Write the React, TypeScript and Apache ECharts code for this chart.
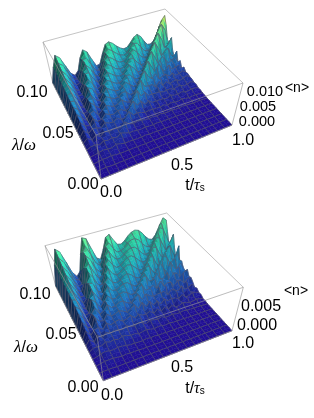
import React, { useEffect, useRef } from "react";
import * as echarts from "echarts";

// <n> in units of 1e-4; rows = lambda index 0..32 (0 .. 0.10), columns = t index 0..32 (0 .. 1).
// Trailing zeros of a row are left out.
const surfaceA: number[][] = [
[],
[],
[0,1,2],
[0,1,1,3,1,1],
[0,2,4,3,5,2,1,1,1,1,1],
[0,1,1,3,3,7,2,2,1,1,1,1,1,1],
[0,1,4,6,4,3,9,5,2,2,2,1,1,2,0,1],
[1,3,8,4,6,7,4,12,8,6,3,3,3,2,1,2,1,1,1,0,1],
[1,6,7,2,10,6,10,4,14,9,5,5,3,2,4,2,2,3,2,1,2,1,1,1],
[1,8,3,7,8,9,7,10,6,17,9,4,3,3,5,4,3,4,2,2,3,1,2,2,1,1,1],
[1,12,2,12,3,14,8,11,10,7,20,9,6,8,7,4,3,5,2,5,2,2,4,1,2,3,2,1,1,1,1],
[1,15,2,15,5,13,13,9,15,9,9,23,8,9,11,6,3,7,2,7,2,6,2,3,5,2,1,2,3,1,1,1,1],
[1,17,3,13,11,6,18,12,11,18,9,12,26,10,13,9,5,7,6,5,5,7,2,7,3,2,6,3,1,2,3,2,1],
[1,20,5,8,18,4,18,18,12,15,19,9,13,30,12,19,7,10,11,4,9,3,7,6,4,8,3,3,7,4,2,2,3],
[1,23,8,4,22,8,11,23,16,13,20,18,10,17,33,15,24,9,16,7,8,7,7,3,10,5,4,8,4,3,6,5,2],
[2,26,12,3,22,15,5,23,23,15,16,24,18,11,20,37,17,25,11,17,7,13,5,11,6,8,11,4,6,9,4,3,6],
[2,30,16,2,19,23,6,16,28,21,16,20,28,17,12,23,41,20,27,13,14,12,13,8,9,11,4,10,10,4,6,10,5],
[2,33,19,4,14,28,12,8,29,28,19,17,25,28,16,14,27,45,23,25,18,12,20,10,13,6,13,8,5,12,9,3,8],
[2,34,24,5,8,32,19,7,22,34,26,20,20,31,29,16,16,30,49,26,24,24,12,26,9,18,7,11,13,6,11,15,8],
[2,35,28,7,6,30,29,9,12,35,33,25,20,26,34,28,16,18,34,53,30,25,31,14,23,15,16,13,9,15,10,5,11],
[2,36,33,11,4,27,35,16,8,28,40,32,24,22,31,39,28,18,20,39,57,35,24,36,16,20,23,14,19,8,12,16,9],
[3,37,37,15,3,22,40,24,9,20,40,39,30,24,26,37,39,27,19,22,41,61,39,24,44,19,16,30,12,21,13,12,18],
[3,38,42,20,5,15,42,35,13,10,35,46,38,29,25,31,42,40,26,20,25,46,66,43,24,47,25,15,32,14,18,21,8],
[3,40,46,24,6,10,39,43,21,10,26,46,45,35,29,27,37,46,40,26,21,28,51,70,48,26,46,29,18,29,23,18,25],
[3,42,50,29,8,8,36,48,30,10,16,42,52,43,34,29,31,44,51,40,25,22,33,55,75,52,29,49,36,21,26,33,14],
[3,43,54,33,10,6,29,54,41,18,12,33,53,52,41,33,31,37,50,52,39,25,24,35,62,79,57,32,46,45,23,23,43],
[4,44,57,38,13,5,22,51,51,26,12,22,50,59,50,38,34,34,43,55,53,37,26,26,39,66,84,62,34,48,51,26,19],
[4,45,62,44,17,5,16,48,56,36,14,14,40,60,58,48,38,34,38,50,59,53,37,27,29,43,72,89,67,38,47,58,32],
[4,46,66,48,23,7,12,45,62,47,22,14,30,57,65,57,46,38,37,44,56,64,52,36,29,31,48,78,94,71,42,47,67],
[4,47,70,54,28,9,9,37,65,59,31,14,17,47,67,65,54,44,39,40,50,63,65,52,36,30,35,53,83,99,78,45,45],
[5,49,74,64,34,12,8,31,62,65,42,19,15,37,65,73,64,53,44,40,44,57,68,65,51,35,31,37,56,87,104,84,48],
[5,50,79,65,38,13,7,24,59,72,53,29,16,26,56,74,73,62,51,45,43,50,64,73,67,50,34,32,40,61,93,110,88],
[5,50,85,74,44,16,6,18,55,78,68,40,16,18,48,75,80,72,60,50,44,46,58,72,78,68,50,36,34,44,68,100,115],
];
const surfaceB: number[][] = [
[],
[],
[0,1,1,1],
[0,2,2,3,1,1],
[0,2,4,4,4,2,1,2,1,1,1],
[0,1,2,4,4,6,3,4,3,2,1,2,1,1],
[0,2,6,8,6,5,7,6,4,2,2,1,1,3,1,2,0,1],
[1,4,11,5,6,9,5,9,9,8,7,6,4,2,2,3,1,2,2,0,1],
[1,7,8,6,12,8,11,7,12,10,6,7,3,5,7,4,2,4,3,1,3,1,1,1,1],
[1,10,4,11,10,10,12,11,8,14,9,6,7,8,8,3,6,6,2,3,4,1,2,3,1,1,1,1],
[1,13,3,18,7,17,11,15,12,10,16,10,9,13,10,4,9,7,5,8,3,3,5,2,2,4,2,1,1,1,1],
[1,17,3,19,10,15,14,14,18,12,13,19,10,13,16,8,8,9,7,9,5,9,3,3,7,4,2,4,3,2,1,1,1],
[1,20,5,15,18,9,22,14,18,20,13,16,21,11,17,11,11,15,6,14,5,13,4,11,3,4,8,5,2,3,5,3,1],
[1,23,7,10,26,11,22,19,17,22,20,14,18,24,13,22,10,16,12,10,11,12,7,12,4,12,4,5,8,5,3,3,5],
[1,26,11,6,30,16,13,27,18,21,25,21,15,21,27,14,27,13,23,11,18,7,17,9,12,10,5,13,4,4,10,7,4],
[2,30,15,5,28,25,13,28,25,21,26,28,22,17,25,30,16,29,16,22,15,19,13,13,17,7,16,12,7,14,5,4,9],
[2,33,19,5,23,35,16,21,34,23,24,30,30,22,18,29,33,18,29,21,17,19,20,21,8,19,15,10,20,8,10,16,5],
[2,36,24,7,17,40,23,15,35,31,24,29,33,31,22,21,32,36,19,28,26,15,29,14,25,13,15,22,12,15,19,9,12],
[2,38,28,9,11,43,32,17,27,40,28,27,34,37,32,24,24,36,39,22,25,30,18,35,19,24,23,10,22,20,9,19,18],
[2,39,32,11,9,38,44,22,20,42,37,29,32,38,39,33,25,26,39,42,25,24,36,21,31,25,22,31,17,17,29,16,16],
[2,41,38,15,7,32,50,31,19,35,47,34,32,37,42,42,34,27,29,43,45,28,29,43,25,24,36,17,29,26,12,24,27],
[3,42,43,20,6,25,55,41,23,24,48,44,34,35,43,46,43,34,28,32,47,49,31,28,49,30,20,43,24,26,34,20,19],
[3,43,48,25,9,18,55,52,29,22,43,54,40,35,39,47,50,44,35,30,35,52,52,35,29,52,36,23,46,30,23,36,22],
[3,44,52,30,11,13,49,62,39,24,34,57,51,38,40,46,52,52,46,36,32,40,56,56,37,29,52,43,27,38,43,21,33],
[3,46,57,36,13,12,42,68,50,29,27,51,62,47,40,44,52,57,55,46,37,34,44,60,60,39,31,53,47,31,33,51,30],
[3,46,61,41,17,10,35,73,63,37,27,41,64,58,44,44,49,57,61,57,47,38,37,47,65,64,45,34,53,55,35,25,61],
[4,48,65,46,20,10,27,66,74,48,31,35,61,70,54,45,48,56,62,64,58,48,40,40,51,69,67,48,36,51,61,41,29],
[4,49,70,52,25,10,19,60,79,60,37,29,50,71,65,50,48,53,62,67,67,60,48,42,43,56,74,71,51,38,53,68,47],
[4,52,74,57,31,12,16,53,85,72,46,34,37,69,78,61,52,53,59,67,71,70,61,49,43,46,61,79,75,56,40,52,75],
[4,52,79,64,37,16,16,45,86,86,57,37,35,59,79,73,58,54,58,66,73,76,71,61,51,46,50,66,85,79,60,43,52],
[5,54,84,70,43,18,14,34,80,93,70,45,36,50,79,86,70,57,58,63,73,78,79,73,62,52,48,54,70,89,84,64,45],
[5,54,89,75,50,22,12,30,73,98,83,56,40,41,69,88,83,67,59,62,70,78,82,82,74,62,52,50,57,75,94,88,67],
[5,55,95,85,55,25,12,22,65,105,100,70,44,38,60,90,95,78,64,62,68,78,85,88,85,76,64,55,52,62,82,100,92],
];

const tTicks = ["0.0", "0.5", "1.0"];
const lambdaTicks = ["0.10", "0.05", "0.00"];
const nTicksA = ["0.010", "0.005", "0.000"];
const nTicksB = ["0.005", "0.000"];

const GRID = 32;
type P = [number, number];
type Box = { b: [P, P, P, P]; t: [P, P, P, P]; zMax: number };
// corners: (t=0,l=0), (t=1,l=0), (t=1,l=1), (t=0,l=1)
const boxA: Box = {
  b: [[101, 179], [232, 125], [163, 50.6], [53, 84]],
  t: [[96, 135], [243, 83], [165, 9], [43, 42]],
  zMax: 136,
};
const boxB: Box = {
  b: [[103.3, 380.7], [232, 330.7], [164, 256], [56, 287.3]],
  t: [[97.3, 337.3], [243.3, 287.3], [166.7, 213], [45, 245.7]],
  zMax: 110,
};

function homography(q: [P, P, P, P]) {
  const [p0, p1, p2, p3] = q;
  const dx1 = p1[0] - p2[0], dx2 = p3[0] - p2[0], sx = p0[0] - p1[0] + p2[0] - p3[0];
  const dy1 = p1[1] - p2[1], dy2 = p3[1] - p2[1], sy = p0[1] - p1[1] + p2[1] - p3[1];
  const den = dx1 * dy2 - dx2 * dy1;
  const g = (sx * dy2 - dx2 * sy) / den;
  const h = (dx1 * sy - sx * dy1) / den;
  const a = p1[0] - p0[0] + g * p1[0], b = p3[0] - p0[0] + h * p3[0], c = p0[0];
  const d = p1[1] - p0[1] + g * p1[1], e = p3[1] - p0[1] + h * p3[1], f = p0[1];
  return (u: number, v: number): P => {
    const w = g * u + h * v + 1;
    return [(a * u + b * v + c) / w, (d * u + e * v + f) / w];
  };
}
function projector(box: Box) {
  const hb = homography(box.b), ht = homography(box.t);
  return (u: number, v: number, z: number): P => {
    const pb = hb(u, v), pt = ht(u, v), k = z / box.zMax;
    return [pb[0] + (pt[0] - pb[0]) * k, pb[1] + (pt[1] - pb[1]) * k];
  };
}

const STOPS: [number, number[]][] = [
  [0, [30, 14, 136]],
  [0.08, [28, 48, 148]],
  [0.2, [28, 100, 168]],
  [0.36, [26, 150, 168]],
  [0.55, [38, 190, 152]],
  [0.72, [84, 218, 142]],
  [0.88, [180, 226, 90]],
  [1, [244, 230, 60]],
];
function colorAt(v: number, shade: number) {
  const x = Math.max(0, Math.min(1, v));
  let k = 1;
  while (k < STOPS.length - 1 && STOPS[k][0] < x) k++;
  const [a, ca] = STOPS[k - 1], [b, cb] = STOPS[k];
  const f = (x - a) / (b - a);
  const c = ca.map((m, i) => Math.round(Math.min(255, (m + (cb[i] - m) * f) * shade)));
  return `rgb(${c[0]},${c[1]},${c[2]})`;
}

function surfaceSeries(rows: number[][], box: Box, refMax: number) {
  const proj = projector(box);
  const data: number[][] = [];
  for (let j = GRID - 1; j >= 0; j--) for (let i = GRID - 1; i >= 0; i--) data.push([i, j]);
  const val = (j: number, i: number) => rows[j][i] ?? 0;
  return {
    type: "custom",
    coordinateSystem: "cartesian2d",
    clip: false,
    silent: true,
    progressive: 0,
    data,
    renderItem: (_p: any, api: any) => {
      const i = api.value(0), j = api.value(1);
      const z00 = val(j, i), z10 = val(j, i + 1), z01 = val(j + 1, i), z11 = val(j + 1, i + 1);
      const pt = (a: number, b: number, z: number) => api.coord(proj(a / GRID, b / GRID, z));
      const a = pt(i, j, z00), b = pt(i + 1, j, z10), c = pt(i + 1, j + 1, z11), d = pt(i, j + 1, z01);
      const avg = (z00 + z10 + z01 + z11) / 4;
      const dzt = ((z10 + z11 - z00 - z01) / 2) * GRID / refMax * 0.2;
      const dzl = ((z01 + z11 - z00 - z10) / 2) * GRID / refMax * 0.2;
      const len = Math.sqrt(dzt * dzt + dzl * dzl + 1);
      const lam = (-dzt * 0.62 + -dzl * 0.1 + 0.75) / len;
      const shade = 0.5 + 0.78 * Math.max(0, lam);
      const fill = colorAt(avg / refMax, shade);
      const kids: any[] = [
        { type: "polygon", shape: { points: [a, b, c, d] }, style: { fill, stroke: fill, lineWidth: 0.5 } },
      ];
      const mesh = { stroke: "rgba(88,88,108,0.7)", lineWidth: 0.9, fill: null };
      if (i % 2 === 0) kids.push({ type: "polyline", shape: { points: [a, d] }, style: mesh });
      if ((i + 1) % 2 === 0) kids.push({ type: "polyline", shape: { points: [b, c] }, style: mesh });
      if (j % 2 === 0) kids.push({ type: "polyline", shape: { points: [a, b] }, style: mesh });
      if ((j + 1) % 2 === 0) kids.push({ type: "polyline", shape: { points: [d, c] }, style: mesh });
      return { type: "group", children: kids };
    },
  };
}

// box edges as [u0, v0, top0, u1, v1, top1]
const backEdges = [[0, 1, 0, 0, 1, 1], [0, 1, 1, 1, 1, 1], [1, 1, 1, 1, 0, 1]];
const frontEdges = [
  [0, 0, 1, 1, 0, 1], [0, 0, 1, 0, 1, 1], [0, 0, 0, 0, 0, 1], [1, 0, 0, 1, 0, 1],
  [0, 0, 0, 1, 0, 0], [0, 0, 0, 0, 1, 0],
];
function edgeSeries(edges: number[][], box: Box, stroke: string) {
  const proj = projector(box);
  return {
    type: "custom",
    coordinateSystem: "cartesian2d",
    clip: false,
    silent: true,
    data: edges,
    renderItem: (_p: any, api: any) => {
      const e = [0, 1, 2, 3, 4, 5].map((k) => api.value(k));
      return {
        type: "polyline",
        shape: { points: [api.coord(proj(e[0], e[1], e[2] * box.zMax)), api.coord(proj(e[3], e[4], e[5] * box.zMax))] },
        style: { stroke, lineWidth: 0.8, fill: null },
      };
    },
  };
}

const INK = "#000000";
const FONT = "16px 'Liberation Sans', Arial, sans-serif";
const NFONT = "14.5px 'Liberation Sans', Arial, sans-serif";
function label(text: string, x: number, y: number, font = FONT) {
  return { type: "text", x, y, silent: true, style: { text, x: 0, y: 0, font, fill: INK, align: "center", verticalAlign: "middle" } };
}
function greek(x: number, y: number) {
  return {
    type: "text", x, y, silent: true,
    style: {
      text: "{i|λ}{n|/}{i|ω}", align: "center", verticalAlign: "middle", fill: INK,
      rich: {
        i: { font: "italic 17px 'Liberation Serif', serif", fill: INK },
        n: { font: "16px 'Liberation Sans', sans-serif", fill: INK },
      },
    },
  };
}
function tau(x: number, y: number) {
  return {
    type: "text", x, y, silent: true,
    style: {
      text: "{n|t/}{i|τ}{s|s}", align: "center", verticalAlign: "middle", fill: INK,
      rich: {
        n: { font: "16px 'Liberation Sans', sans-serif", fill: INK },
        i: { font: "italic 16px 'Liberation Serif', serif", fill: INK },
        s: { font: "10px 'Liberation Sans', sans-serif", fill: INK, padding: [6, 0, 0, 0] },
      },
    },
  };
}

export default function App() {
  const ref = useRef<HTMLDivElement>(null);
  useEffect(() => {
    document.body.style.margin = "0";
    const chart = echarts.init(ref.current!, undefined, { renderer: "svg" });
    chart.setOption({
      animation: false,
      backgroundColor: "#ffffff",
      grid: { left: 0, top: 0, width: 314, height: 418 },
      xAxis: { type: "value", min: 0, max: 314, show: false },
      yAxis: { type: "value", min: 0, max: 418, inverse: true, show: false },
      series: [
        edgeSeries(backEdges, boxA, "#b5b5b5"),
        surfaceSeries(surfaceA, boxA, 118),
        edgeSeries(frontEdges, boxA, "rgba(150,150,150,0.8)"),
        edgeSeries(backEdges, boxB, "#b5b5b5"),
        surfaceSeries(surfaceB, boxB, 132),
        edgeSeries(frontEdges, boxB, "rgba(150,150,150,0.8)"),
      ],
      graphic: [
        label(lambdaTicks[0], 32, 91), label(lambdaTicks[1], 58, 132), label(lambdaTicks[2], 83, 183),
        label(tTicks[0], 111, 191), label(tTicks[1], 182, 164), label(tTicks[2], 243, 139),
        label(nTicksA[0], 265, 91, NFONT), label(nTicksA[1], 258, 106, NFONT), label(nTicksA[2], 257, 121, NFONT),
        label("<n>", 297, 87, "14px 'Liberation Sans', sans-serif"),
        greek(24, 144), tau(195, 184),
        label(lambdaTicks[0], 35, 293), label(lambdaTicks[1], 61, 333), label(lambdaTicks[2], 83, 386),
        label(tTicks[0], 112, 394), label(tTicks[1], 182, 366), label(tTicks[2], 243, 342),
        label(nTicksB[0], 261, 305), label(nTicksB[1], 257, 324),
        label("<n>", 296, 290, "14px 'Liberation Sans', sans-serif"),
        greek(26, 346), tau(195, 387),
      ],
    });
    return () => chart.dispose();
  }, []);
  return <div ref={ref} style={{ width: 314, height: 418, filter: "blur(0.4px)" }} />;
}
